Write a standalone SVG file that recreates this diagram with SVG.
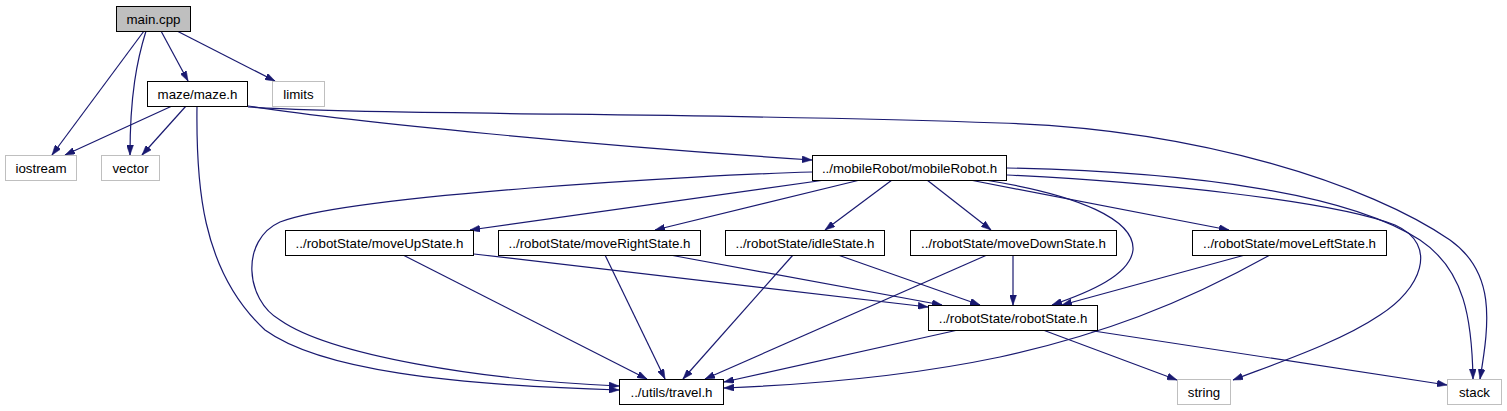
<svg xmlns="http://www.w3.org/2000/svg" width="1507" height="411" viewBox="0 0 1507 411">
<defs>
<style>
.n rect{fill:#ffffff;stroke:#000000;stroke-width:1}
.n.m rect{fill:#bfbfbf}
.n.g rect{stroke:#bfbfbf}
.n text{font-family:"Liberation Sans",Arial,sans-serif;font-size:13.3px;fill:#000000;text-anchor:middle}
.e path{fill:none;stroke:#191970;stroke-width:1.2;marker-end:url(#ah)}
</style>
<marker id="ah" viewBox="0 0 10 7" refX="10" refY="3.5" markerWidth="10" markerHeight="7" markerUnits="userSpaceOnUse" orient="auto">
<path d="M0,0 L10,3.5 L0,7 z" fill="#191970" stroke="#191970" stroke-width="0.5"/>
</marker>
</defs>
<rect width="1507" height="411" fill="#ffffff"/>
<g id="edges" class="e">
<path d="M144,31 L52,155"/>
<path d="M146,31 C137,60 130,95 130,155"/>
<path d="M161,31 L188,81"/>
<path d="M177,31 L275,81"/>
<path d="M172,106 L65,155"/>
<path d="M186,106 L142,155"/>
<path d="M197,106 C196,180 200,270 265,330 C320,370 450,385 619,390"/>
<path d="M248,106 C350,122 600,146 812,160"/>
<path d="M248,107 C400,116 700,112 1000,123 C1200,129 1370,185 1450,240 C1495,272 1490,320 1480,379"/>
<path d="M812,172 C700,175 350,195 280,222 C240,240 245,300 280,320 C330,355 480,380 619,386"/>
<path d="M825,180 L470,230"/>
<path d="M860,180 L655,230"/>
<path d="M892,180 L825,230"/>
<path d="M927,180 L991,230"/>
<path d="M970,180 L1229,230"/>
<path d="M985,180 C1080,195 1135,220 1133,250 C1130,275 1090,292 1052,305"/>
<path d="M1007,175 C1150,182 1330,200 1395,225 C1440,245 1420,290 1380,315 C1340,342 1280,362 1233,380"/>
<path d="M1007,168 C1200,172 1350,195 1420,240 C1465,270 1472,320 1473,379"/>
<path d="M403,255 L647,379"/>
<path d="M474,254 L928,307"/>
<path d="M605,255 L665,379"/>
<path d="M670,255 L942,305"/>
<path d="M793,255 L683,379"/>
<path d="M838,255 L980,305"/>
<path d="M987,255 L705,379"/>
<path d="M1013,255 L1013,305"/>
<path d="M1245,255 L1062,305"/>
<path d="M1270,255 C1180,305 1100,335 1000,357 C900,378 800,385 724,388"/>
<path d="M958,330 L724,382"/>
<path d="M1043,330 L1177,380"/>
<path d="M1087,330 L1447,385"/>
</g>
<g id="main_cpp" class="n m"><rect x="116.5" y="6.5" width="74" height="25"/><text x="153.5" y="23.5">main.cpp</text></g>
<g id="maze_h" class="n"><rect x="147.5" y="81.5" width="100" height="25"/><text x="197.5" y="98.5">maze/maze.h</text></g>
<g id="limits" class="n g"><rect x="272.5" y="81.5" width="52" height="25"/><text x="298.5" y="98.5">limits</text></g>
<g id="iostream" class="n g"><rect x="5.5" y="155.5" width="71" height="25"/><text x="41" y="172.5">iostream</text></g>
<g id="vector" class="n g"><rect x="101.5" y="155.5" width="58" height="25"/><text x="130.5" y="172.5">vector</text></g>
<g id="mobileRobot_h" class="n"><rect x="812.5" y="155.5" width="194" height="25"/><text x="909.5" y="172.5">../mobileRobot/mobileRobot.h</text></g>
<g id="moveUpState_h" class="n"><rect x="285.5" y="230.5" width="188" height="25"/><text x="379.5" y="247.5">../robotState/moveUpState.h</text></g>
<g id="moveRightState_h" class="n"><rect x="498.5" y="230.5" width="202" height="25"/><text x="599.5" y="247.5">../robotState/moveRightState.h</text></g>
<g id="idleState_h" class="n"><rect x="725.5" y="230.5" width="159" height="25"/><text x="805" y="247.5">../robotState/idleState.h</text></g>
<g id="moveDownState_h" class="n"><rect x="910.5" y="230.5" width="206" height="25"/><text x="1013.5" y="247.5">../robotState/moveDownState.h</text></g>
<g id="moveLeftState_h" class="n"><rect x="1192.5" y="230.5" width="194" height="25"/><text x="1289.5" y="247.5">../robotState/moveLeftState.h</text></g>
<g id="robotState_h" class="n"><rect x="928.5" y="305.5" width="169" height="25"/><text x="1013" y="322.5">../robotState/robotState.h</text></g>
<g id="travel_h" class="n"><rect x="619.5" y="379.5" width="104" height="25"/><text x="671.5" y="396.5">../utils/travel.h</text></g>
<g id="string" class="n g"><rect x="1177.5" y="379.5" width="53" height="25"/><text x="1204" y="396.5">string</text></g>
<g id="stack" class="n g"><rect x="1447.5" y="379.5" width="54" height="25"/><text x="1474.5" y="396.5">stack</text></g>
</svg>
